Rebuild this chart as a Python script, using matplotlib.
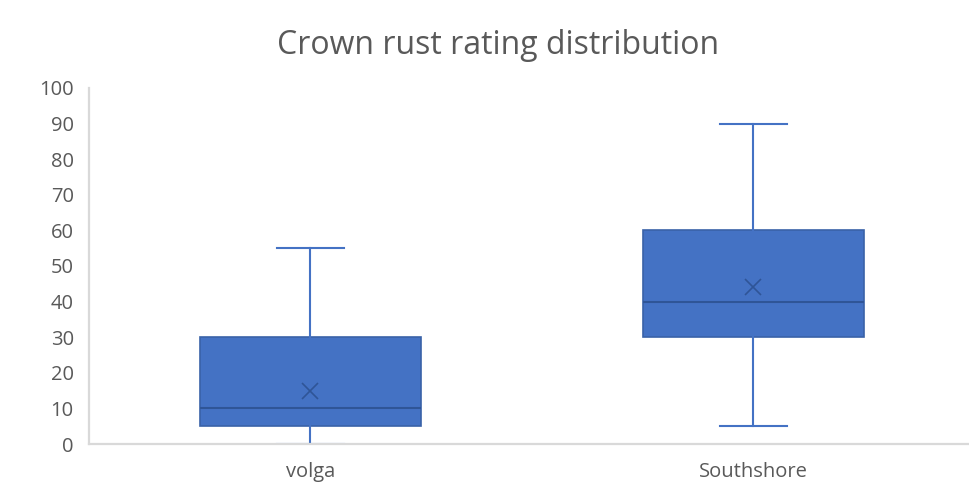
import matplotlib
matplotlib.use('Agg')
import matplotlib.pyplot as plt

plt.rcParams['font.family'] = ['Open Sans', 'DejaVu Sans']

# box stats
groups = ['volga', 'Southshore']
q1 = [5, 30]
med = [10, 40]
q3 = [30, 60]
whis_lo = [0, 5]
whis_hi = [55, 90]
means = [15, 44]

yticks = list(range(0, 101, 10))

stats = []
for i in range(len(groups)):
    stats.append({'label': groups[i], 'q1': q1[i], 'med': med[i], 'q3': q3[i],
                  'whislo': whis_lo[i], 'whishi': whis_hi[i], 'mean': means[i]})

fig = plt.figure(figsize=(9.7, 4.83), dpi=100)
ax = fig.add_axes([89/970, 1-444/483, (975-89)/970, (444-88)/483])

blue = '#4472C4'
dark = '#3A62A8'
ax.bxp(stats, positions=[1, 2], widths=0.5, capwidths=0.15, showmeans=True,
       showfliers=False, patch_artist=True,
       boxprops=dict(facecolor=blue, edgecolor=dark, linewidth=1.2),
       whiskerprops=dict(color=blue, linewidth=1.5),
       capprops=dict(color=blue, linewidth=1.5),
       medianprops=dict(color='#2F5597', linewidth=1.5),
       meanprops=dict(marker='x', markeredgecolor='#2F5597', markersize=12,
                      markeredgewidth=1.2))

ax.set_xlim(0.5, 2.5)
ax.set_ylim(0, 100)
ax.set_yticks(yticks)
for s in ['top', 'right']:
    ax.spines[s].set_visible(False)
for s in ['left', 'bottom']:
    ax.spines[s].set_color('#D9D9D9')
    ax.spines[s].set_linewidth(1.6)
    ax.spines[s].set_zorder(5)
ax.tick_params(axis='both', length=0, labelsize=14.5, labelcolor='#595959')
ax.tick_params(axis='x', pad=13)
ax.tick_params(axis='y', pad=11)

fig.text(0.513, 1-45/483, 'Crown rust rating distribution', ha='center',
         va='center', fontsize=23, color='#595959')

fig.savefig('out.png', dpi=100)
